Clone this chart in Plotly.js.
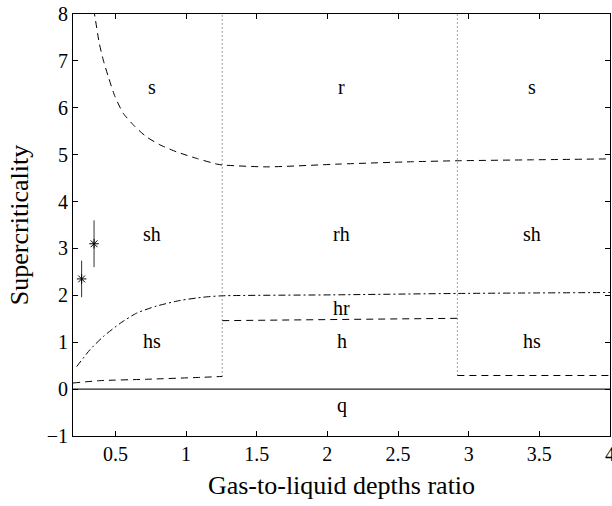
<!DOCTYPE html>
<html>
<head>
<meta charset="utf-8">
<script src="https://cdn.plot.ly/plotly-3.0.1.min.js"></script>
<style>
  html, body { margin: 0; padding: 0; background: #fff; }
  #chart { width: 612px; height: 506px; }
</style>
</head>
<body>
<div id="chart"></div>
<script>
// Upper boundary (dashed): s / r above, sh / rh below
const upperX = [0.347, 0.356, 0.386, 0.414, 0.45, 0.497, 0.556, 0.638, 0.72, 0.815, 0.933, 1.075, 1.216, 1.256, 1.57, 2.09, 2.61, 2.92, 3.45, 4.0];
const upperY = [8.1, 7.93, 7.375, 7.02, 6.66, 6.24, 5.88, 5.60, 5.38, 5.21, 5.06, 4.92, 4.80, 4.78, 4.74, 4.80, 4.85, 4.87, 4.89, 4.91];

// Dash-dot boundary between sh/rh and hs/hr
const midX = [0.226, 0.32, 0.414, 0.532, 0.65, 0.79, 0.957, 1.12, 1.256, 2.04, 2.92, 4.0];
const midY = [0.48, 0.84, 1.12, 1.40, 1.62, 1.77, 1.89, 1.96, 1.99, 2.01, 2.04, 2.06];

// Lower dashed boundaries in the three columns
const lowLeftX = [0.2, 0.39, 0.72, 1.1, 1.256];
const lowLeftY = [0.13, 0.18, 0.21, 0.25, 0.27];
const lowMidX = [1.256, 2.92];
const lowMidY = [1.46, 1.51];
const lowRightX = [2.92, 4.0];
const lowRightY = [0.29, 0.29];

// Vertical dotted separators
const sepX = [1.256, 2.92];
const sepBottom = [0.27, 0.29];
const sepTop = 8;

// Zero line (q below)
const zeroX = [0.2, 4.0];
const zeroY = [0, 0];

// Measured points with error bars
const obsX = [0.261, 0.349];
const obsY = [2.35, 3.10];
const obsErr = [0.39, 0.50];

// Region labels
const labelText = ['s', 'r', 's', 'sh', 'rh', 'sh', 'hr', 'hs', 'h', 'hs', 'q'];
const labelX = [0.76, 2.10, 3.45, 0.76, 2.10, 3.45, 2.10, 0.76, 2.10, 3.45, 2.10];
const labelY = [6.44, 6.44, 6.44, 3.30, 3.30, 3.30, 1.72, 1.03, 1.03, 1.03, -0.36];

// Axis ticks
const xTicks = [0.5, 1, 1.5, 2, 2.5, 3, 3.5, 4];
const xTickText = ['0.5', '1', '1.5', '2', '2.5', '3', '3.5', '4'];
const yTicks = [-1, 0, 1, 2, 3, 4, 5, 6, 7, 8];

const FONT = 'Liberation Serif, Times New Roman, serif';
const dashed = '7px,5px';
const dashDot = '7px,3px,2px,3px';

const traces = [
  { x: upperX, y: upperY, mode: 'lines', line: { color: '#000', width: 1, dash: dashed, shape: 'spline', smoothing: 0.6 } },
  { x: midX, y: midY, mode: 'lines', line: { color: '#000', width: 1, dash: dashDot, shape: 'spline', smoothing: 0.6 } },
  { x: lowLeftX, y: lowLeftY, mode: 'lines', line: { color: '#000', width: 1, dash: dashed, shape: 'spline', smoothing: 0.6 } },
  { x: lowMidX, y: lowMidY, mode: 'lines', line: { color: '#000', width: 1, dash: dashed } },
  { x: lowRightX, y: lowRightY, mode: 'lines', line: { color: '#000', width: 1, dash: dashed } },
  { x: zeroX, y: zeroY, mode: 'lines', line: { color: '#222', width: 1.3 } }
];

sepX.forEach((sx, i) => {
  traces.push({ x: [sx, sx], y: [sepBottom[i], sepTop], mode: 'lines',
    line: { color: '#444', width: 1, dash: '1px,3px' } });
});

traces.push({
  x: obsX, y: obsY, mode: 'markers',
  marker: { symbol: 'asterisk-open', size: 8, color: '#000', line: { color: '#000', width: 1 } },
  error_y: { type: 'data', array: obsErr, visible: true, color: '#333', thickness: 1, width: 0 }
});

const annotations = labelText.map((t, i) => ({
  x: labelX[i], y: labelY[i], xref: 'x', yref: 'y', text: t, showarrow: false,
  xanchor: 'center', yanchor: 'middle', font: { family: FONT, size: 20, color: '#000' }
}));

const axisCommon = {
  showline: true, linecolor: '#000', linewidth: 1, mirror: 'ticks',
  ticks: 'inside', ticklen: 5, tickwidth: 1, tickcolor: '#000',
  showgrid: false, zeroline: false, ticklabeloverflow: 'allow',
  tickfont: { family: FONT, size: 20, color: '#000' }
};

const layout = {
  width: 612, height: 506,
  margin: { l: 73, r: 2, t: 14, b: 70 },
  paper_bgcolor: '#fff', plot_bgcolor: '#fff',
  showlegend: false,
  font: { family: FONT, color: '#000' },
  xaxis: Object.assign({}, axisCommon, {
    range: [0.2, 4.0], tickvals: xTicks, ticktext: xTickText,
    title: { text: 'Gas-to-liquid depths ratio', font: { family: FONT, size: 26, color: '#000' }, standoff: 11 }
  }),
  yaxis: Object.assign({}, axisCommon, {
    range: [-1, 8], tickvals: yTicks,
    title: { text: 'Supercriticality', font: { family: FONT, size: 26, color: '#000' }, standoff: 10 }
  }),
  annotations: annotations
};

Plotly.newPlot('chart', traces, layout, { staticPlot: true, displayModeBar: false });
</script>
</body>
</html>
